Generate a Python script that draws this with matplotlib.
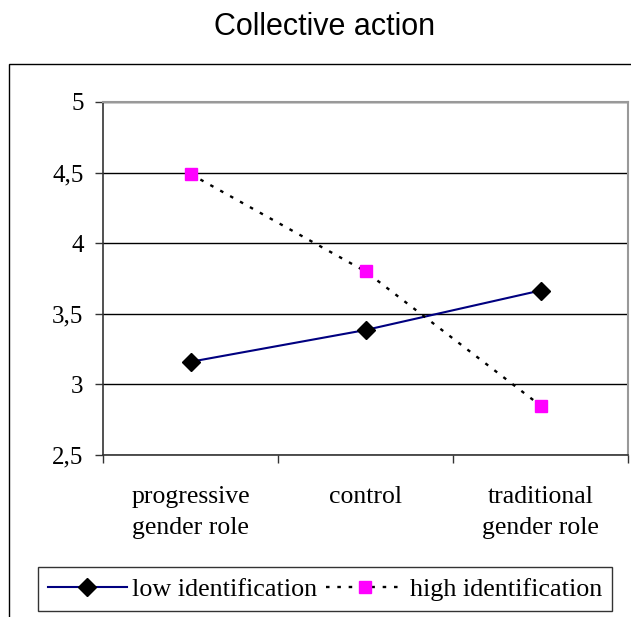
import matplotlib
matplotlib.use("Agg")
import matplotlib.pyplot as plt
from matplotlib.patches import Rectangle
from matplotlib.ticker import FixedLocator, FuncFormatter

categories = ["progressive\ngender role", "control", "traditional\ngender role"]
low_identification = [3.16, 3.385, 3.665]
high_identification = [4.49, 3.80, 2.85]
yticks = [2.5, 3, 3.5, 4, 4.5, 5]

W, H = 631, 617
fig = plt.figure(figsize=(W / 100, H / 100), dpi=100)

# outer chart border (clipped on the right/bottom like the reference)
fig.patches.append(Rectangle((9 / W, -0.1), 1.2, 1 - 64 / H + 0.1, transform=fig.transFigure,
                             fill=False, edgecolor="black", linewidth=1.0))

ax = fig.add_axes([103 / W, 1 - 455 / H, (628 - 103) / W, (455 - 102) / H])
serif = "Liberation Serif"

x = list(range(len(categories)))
ax.plot(x, low_identification, color="#000080", linewidth=1.5, marker="D", markersize=9,
        markerfacecolor="black", markeredgecolor="black", label="low identification", zorder=3)
ax.plot(x, high_identification, color="black", linewidth=1.7, linestyle=(0, (1.5, 3.3)),
        marker="s", markersize=8, markerfacecolor="#ff00ff", markeredgecolor="#ff00ff",
        label="high identification", zorder=3)

ax.set_xlim(-0.5, len(categories) - 0.5)
ax.set_ylim(2.5, 5)
ax.set_yticks(yticks)
ax.yaxis.set_major_formatter(FuncFormatter(lambda v, p: ("%g" % v).replace(".", ",")))
ax.grid(axis="y", color="black", linewidth=1.0)
ax.set_axisbelow(True)

ax.set_xticks(x)
ax.set_xticklabels(categories, fontfamily=serif, fontsize=18.5, linespacing=1.55)
ax.xaxis.set_minor_locator(FixedLocator([-0.5, 0.5, 1.5, 2.5]))
ax.tick_params(axis="x", which="major", length=0, pad=22)
ax.tick_params(axis="x", which="minor", length=6, width=1.0, direction="out", color="#333333")
ax.tick_params(axis="y", length=6, width=1.0, direction="out", color="#333333", pad=8)
for lab in ax.get_yticklabels():
    lab.set_fontfamily(serif)
    lab.set_fontsize(18)

for side in ["left", "bottom"]:
    ax.spines[side].set_color("#333333")
    ax.spines[side].set_linewidth(1.2)
for side in ["top", "right"]:
    ax.spines[side].set_color("#999999")
    ax.spines[side].set_linewidth(1.5)

fig.text(325 / W, 1 - 27 / H, "Collective action", ha="center", va="center",
         fontfamily="Liberation Sans", fontsize=22)

leg = fig.legend(loc="center", bbox_to_anchor=(325 / W, 1 - 589 / H), ncol=2,
                 prop={"family": serif, "size": 18.8}, frameon=True, fancybox=False,
                 handlelength=3.0, handletextpad=0.2, columnspacing=0.35,
                 borderpad=0.4, borderaxespad=0)
leg.get_frame().set_edgecolor("black")
leg.get_frame().set_linewidth(1.0)

fig.savefig("out.png", dpi=100)
